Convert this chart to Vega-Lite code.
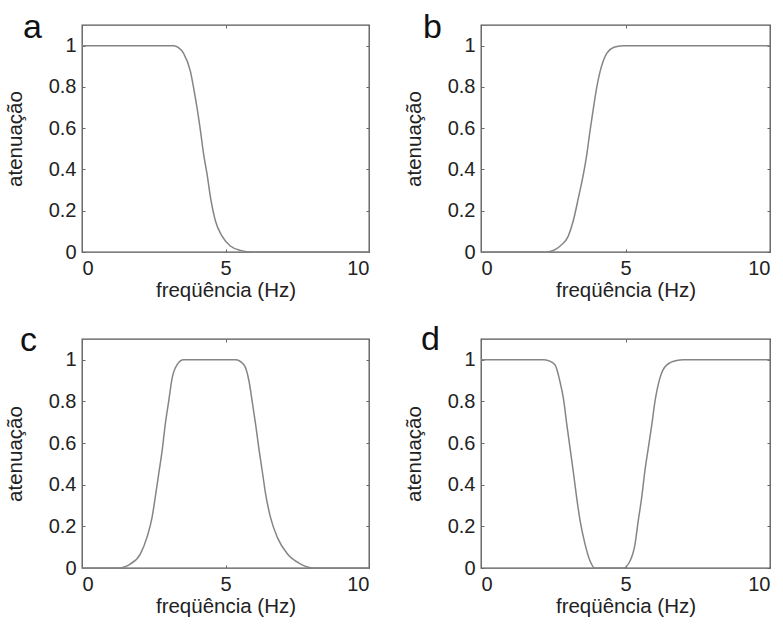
{
  "$schema": "https://vega.github.io/schema/vega-lite/v6.json",
  "background": "white",
  "padding": {"left": 4, "top": 9, "right": 0, "bottom": 0},
  "datasets": {
    "a": [{"f":0,"v":1},{"f":3.2,"v":1},{"f":3.35,"v":0.992},{"f":3.54,"v":0.963},{"f":3.78,"v":0.874},{"f":3.89,"v":0.794},{"f":4.01,"v":0.697},{"f":4.13,"v":0.585},{"f":4.24,"v":0.472},{"f":4.36,"v":0.375},{"f":4.48,"v":0.262},{"f":4.65,"v":0.15},{"f":4.88,"v":0.077},{"f":5.17,"v":0.029},{"f":5.52,"v":0.008},{"f":5.93,"v":0},{"f":10,"v":0}],
    "b": [{"f":0,"v":0},{"f":2.27,"v":0},{"f":2.5,"v":0.007},{"f":2.73,"v":0.028},{"f":3.02,"v":0.077},{"f":3.19,"v":0.15},{"f":3.37,"v":0.262},{"f":3.54,"v":0.375},{"f":3.66,"v":0.472},{"f":3.77,"v":0.585},{"f":3.89,"v":0.697},{"f":4.0,"v":0.794},{"f":4.12,"v":0.874},{"f":4.35,"v":0.963},{"f":4.6,"v":0.992},{"f":4.9,"v":1},{"f":10,"v":1}],
    "c": [{"f":0,"v":0},{"f":1.27,"v":0},{"f":1.5,"v":0.006},{"f":1.68,"v":0.019},{"f":2.03,"v":0.067},{"f":2.26,"v":0.146},{"f":2.44,"v":0.242},{"f":2.55,"v":0.338},{"f":2.67,"v":0.45},{"f":2.79,"v":0.561},{"f":2.9,"v":0.689},{"f":3.02,"v":0.8},{"f":3.14,"v":0.912},{"f":3.31,"v":0.976},{"f":3.54,"v":1},{"f":5.35,"v":1},{"f":5.64,"v":0.976},{"f":5.82,"v":0.897},{"f":5.93,"v":0.8},{"f":6.05,"v":0.689},{"f":6.16,"v":0.577},{"f":6.28,"v":0.466},{"f":6.4,"v":0.354},{"f":6.57,"v":0.242},{"f":6.81,"v":0.146},{"f":7.16,"v":0.067},{"f":7.62,"v":0.019},{"f":7.85,"v":0.005},{"f":8.09,"v":0},{"f":10,"v":0}],
    "d": [{"f":0,"v":1},{"f":2.16,"v":1},{"f":2.35,"v":0.995},{"f":2.56,"v":0.976},{"f":2.73,"v":0.897},{"f":2.85,"v":0.816},{"f":2.97,"v":0.689},{"f":3.08,"v":0.577},{"f":3.19,"v":0.466},{"f":3.31,"v":0.338},{"f":3.43,"v":0.226},{"f":3.6,"v":0.115},{"f":3.77,"v":0.035},{"f":3.94,"v":0},{"f":4.92,"v":0},{"f":5.16,"v":0.035},{"f":5.33,"v":0.115},{"f":5.44,"v":0.226},{"f":5.56,"v":0.338},{"f":5.67,"v":0.466},{"f":5.79,"v":0.577},{"f":5.91,"v":0.689},{"f":6.02,"v":0.8},{"f":6.19,"v":0.912},{"f":6.43,"v":0.976},{"f":6.77,"v":0.997},{"f":7.0,"v":1},{"f":10,"v":1}]
  },
  "columns": 2,
  "bounds": "flush",
  "spacing": {"row": 87, "column": 112},
  "concat": [
    {
      "title": {"text": "a", "anchor": "start", "frame": "group", "orient": "top", "baseline": "alphabetic", "offset": 0, "dx": -59, "dy": 47},
      "width": 287, "height": 227,
      "data": {"name": "a"},
      "layer": [
        {"mark": {"type": "line", "color": "#858585", "strokeWidth": 1.5, "interpolate": "monotone"},
         "encoding": {
           "x": {"field": "f", "type": "quantitative", "scale": {"domain": [0, 10], "nice": false}, "axis": {"orient": "bottom", "values": [0, 5, 10], "title": "freqüência (Hz)", "format": "d"}},
           "y": {"field": "v", "type": "quantitative", "scale": {"domain": [0, 1.1], "nice": false, "zero": false}, "axis": {"orient": "left", "values": [0, 0.2, 0.4, 0.6, 0.8, 1], "title": "atenuação", "format": "~g"}}
         }},
        {"mark": {"type": "line", "opacity": 0},
         "encoding": {
           "x": {"field": "f", "type": "quantitative", "axis": {"orient": "top", "values": [0, 5, 10], "labels": false, "title": null}},
           "y": {"field": "v", "type": "quantitative", "axis": {"orient": "right", "values": [0, 0.2, 0.4, 0.6, 0.8, 1], "labels": false, "title": null}}
         }}
      ],
      "resolve": {"axis": {"x": "independent", "y": "independent"}}
    },
    {
      "title": {"text": "b", "anchor": "start", "frame": "group", "orient": "top", "baseline": "alphabetic", "offset": 0, "dx": -58, "dy": 47},
      "width": 289, "height": 227,
      "data": {"name": "b"},
      "layer": [
        {"mark": {"type": "line", "color": "#858585", "strokeWidth": 1.5, "interpolate": "monotone"},
         "encoding": {
           "x": {"field": "f", "type": "quantitative", "scale": {"domain": [0, 10], "nice": false}, "axis": {"orient": "bottom", "values": [0, 5, 10], "title": "freqüência (Hz)", "format": "d"}},
           "y": {"field": "v", "type": "quantitative", "scale": {"domain": [0, 1.1], "nice": false, "zero": false}, "axis": {"orient": "left", "values": [0, 0.2, 0.4, 0.6, 0.8, 1], "title": "atenuação", "format": "~g"}}
         }},
        {"mark": {"type": "line", "opacity": 0},
         "encoding": {
           "x": {"field": "f", "type": "quantitative", "axis": {"orient": "top", "values": [0, 5, 10], "labels": false, "title": null}},
           "y": {"field": "v", "type": "quantitative", "axis": {"orient": "right", "values": [0, 0.2, 0.4, 0.6, 0.8, 1], "labels": false, "title": null}}
         }}
      ],
      "resolve": {"axis": {"x": "independent", "y": "independent"}}
    },
    {
      "title": {"text": "c", "anchor": "start", "frame": "group", "orient": "top", "baseline": "alphabetic", "offset": 0, "dx": -62, "dy": 46},
      "width": 287, "height": 229,
      "data": {"name": "c"},
      "layer": [
        {"mark": {"type": "line", "color": "#858585", "strokeWidth": 1.5, "interpolate": "monotone"},
         "encoding": {
           "x": {"field": "f", "type": "quantitative", "scale": {"domain": [0, 10], "nice": false}, "axis": {"orient": "bottom", "values": [0, 5, 10], "title": "freqüência (Hz)", "format": "d"}},
           "y": {"field": "v", "type": "quantitative", "scale": {"domain": [0, 1.1], "nice": false, "zero": false}, "axis": {"orient": "left", "values": [0, 0.2, 0.4, 0.6, 0.8, 1], "title": "atenuação", "format": "~g"}}
         }},
        {"mark": {"type": "line", "opacity": 0},
         "encoding": {
           "x": {"field": "f", "type": "quantitative", "axis": {"orient": "top", "values": [0, 5, 10], "labels": false, "title": null}},
           "y": {"field": "v", "type": "quantitative", "axis": {"orient": "right", "values": [0, 0.2, 0.4, 0.6, 0.8, 1], "labels": false, "title": null}}
         }}
      ],
      "resolve": {"axis": {"x": "independent", "y": "independent"}}
    },
    {
      "title": {"text": "d", "anchor": "start", "frame": "group", "orient": "top", "baseline": "alphabetic", "offset": 0, "dx": -60, "dy": 45},
      "width": 289, "height": 229,
      "data": {"name": "d"},
      "layer": [
        {"mark": {"type": "line", "color": "#858585", "strokeWidth": 1.5, "interpolate": "monotone"},
         "encoding": {
           "x": {"field": "f", "type": "quantitative", "scale": {"domain": [0, 10], "nice": false}, "axis": {"orient": "bottom", "values": [0, 5, 10], "title": "freqüência (Hz)", "format": "d"}},
           "y": {"field": "v", "type": "quantitative", "scale": {"domain": [0, 1.1], "nice": false, "zero": false}, "axis": {"orient": "left", "values": [0, 0.2, 0.4, 0.6, 0.8, 1], "title": "atenuação", "format": "~g"}}
         }},
        {"mark": {"type": "line", "opacity": 0},
         "encoding": {
           "x": {"field": "f", "type": "quantitative", "axis": {"orient": "top", "values": [0, 5, 10], "labels": false, "title": null}},
           "y": {"field": "v", "type": "quantitative", "axis": {"orient": "right", "values": [0, 0.2, 0.4, 0.6, 0.8, 1], "labels": false, "title": null}}
         }}
      ],
      "resolve": {"axis": {"x": "independent", "y": "independent"}}
    }
  ],
  "config": {
    "font": "Liberation Sans",
    "view": {"stroke": "#555555", "strokeWidth": 1.3},
    "title": {"fontSize": 34, "fontWeight": "normal", "color": "#111", "font": "Liberation Sans"},
    "axis": {
      "domain": false,
      "grid": false,
      "tickSize": -3,
      "tickColor": "#666",
      "tickWidth": 1,
      "labelFont": "Liberation Sans",
      "labelFontSize": 20,
      "labelColor": "#222",
      "labelPadding": 9,
      "titleFont": "Liberation Sans",
      "titleFontSize": 20.5,
      "titleFontWeight": "normal",
      "titleColor": "#222",
      "titlePadding": 2
    },
    "axisLeft": {"labelPadding": 9, "titlePadding": 23}
  }
}
